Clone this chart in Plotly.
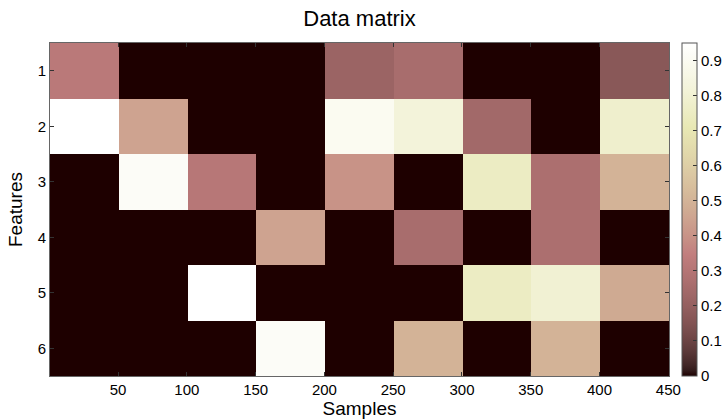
import numpy as np
import plotly.graph_objects as go

# Block structure: 9 blocks of 50 samples each, 6 features
features = [1, 2, 3, 4, 5, 6]
block_size = 50
n_blocks = 9

# Mean level of each feature within each 50-sample block
row1 = [0.32, 0.00, 0.00, 0.00, 0.22, 0.26, 0.00, 0.00, 0.17]
row2 = [0.95, 0.45, 0.00, 0.00, 0.90, 0.82, 0.24, 0.00, 0.78]
row3 = [0.00, 0.92, 0.31, 0.00, 0.40, 0.00, 0.75, 0.27, 0.50]
row4 = [0.00, 0.00, 0.00, 0.45, 0.00, 0.26, 0.00, 0.27, 0.00]
row5 = [0.00, 0.00, 0.95, 0.00, 0.00, 0.00, 0.75, 0.80, 0.47]
row6 = [0.00, 0.00, 0.00, 0.92, 0.00, 0.50, 0.00, 0.50, 0.00]

x_ticks = [50, 100, 150, 200, 250, 300, 350, 400, 450]
cbar_ticks = [0, 0.1, 0.2, 0.3, 0.4, 0.5, 0.6, 0.7, 0.8, 0.9]

z = np.array([row1, row2, row3, row4, row5, row6])
x_edges = [0.5 + i * block_size for i in range(n_blocks + 1)]


def pink_colorscale(m=64):
    """MATLAB-style 'pink' colormap: sqrt((2*gray + hot)/3)."""
    n = int(3 / 8 * m)
    r = np.concatenate([np.arange(1, n + 1) / n, np.ones(m - n)])
    g = np.concatenate([np.zeros(n), np.arange(1, n + 1) / n, np.ones(m - 2 * n)])
    b = np.concatenate([np.zeros(2 * n), np.arange(1, m - 2 * n + 1) / (m - 2 * n)])
    gray = np.arange(m) / (m - 1)
    cols = np.sqrt((2 * gray[:, None] + np.stack([r, g, b], axis=1)) / 3)
    scale = []
    for i, c in enumerate(cols):
        rgb = "rgb(%d,%d,%d)" % tuple(int(round(v * 255)) for v in c)
        scale.append([i / (m - 1), rgb])
    return scale


font = "Liberation Sans, Arial, Helvetica, sans-serif"

fig = go.Figure(
    go.Heatmap(
        z=z,
        x=x_edges,
        y=features,
        colorscale=pink_colorscale(),
        zmin=0,
        zmax=float(z.max()),
        colorbar=dict(
            x=1.021,
            xanchor="left",
            y=0.5,
            yanchor="middle",
            len=1.0,
            lenmode="fraction",
            thickness=15,
            outlinecolor="#555555",
            outlinewidth=1,
            ticks="inside",
            ticklen=4,
            tickcolor="#333333",
            tickvals=cbar_ticks,
            ticktext=[("%g" % v) for v in cbar_ticks],
            tickfont=dict(family=font, size=15, color="#000000"),
            xpad=0,
            ypad=0,
        ),
    )
)

fig.update_layout(
    width=725,
    height=420,
    margin=dict(l=50, r=56, t=43, b=44, autoexpand=False),
    paper_bgcolor="white",
    plot_bgcolor="white",
    title=dict(
        text="Data matrix",
        x=0.5,
        xref="paper",
        y=1 - 18.5 / 420,
        yref="container",
        yanchor="middle",
        font=dict(family=font, size=22, color="#000000"),
    ),
    font=dict(family=font, size=15, color="#000000"),
)

fig.update_xaxes(
    range=[0.5, 450.5],
    tickvals=x_ticks,
    ticks="inside",
    ticklen=4,
    tickcolor="#333333",
    showline=True,
    linecolor="#666666",
    linewidth=1,
    mirror="ticks",
    showgrid=False,
    zeroline=False,
    tickfont=dict(family=font, size=15),
    automargin=False,
    title=dict(text="Samples", font=dict(family=font, size=19), standoff=2),
)

fig.update_yaxes(
    range=[6.5, 0.5],
    tickvals=features,
    ticks="inside",
    ticklen=4,
    tickcolor="#333333",
    showline=True,
    linecolor="#666666",
    linewidth=1,
    mirror="ticks",
    showgrid=False,
    zeroline=False,
    tickfont=dict(family=font, size=15),
    automargin=False,
    title=dict(text="Features", font=dict(family=font, size=19), standoff=10),
)

fig.write_html("out.html")
